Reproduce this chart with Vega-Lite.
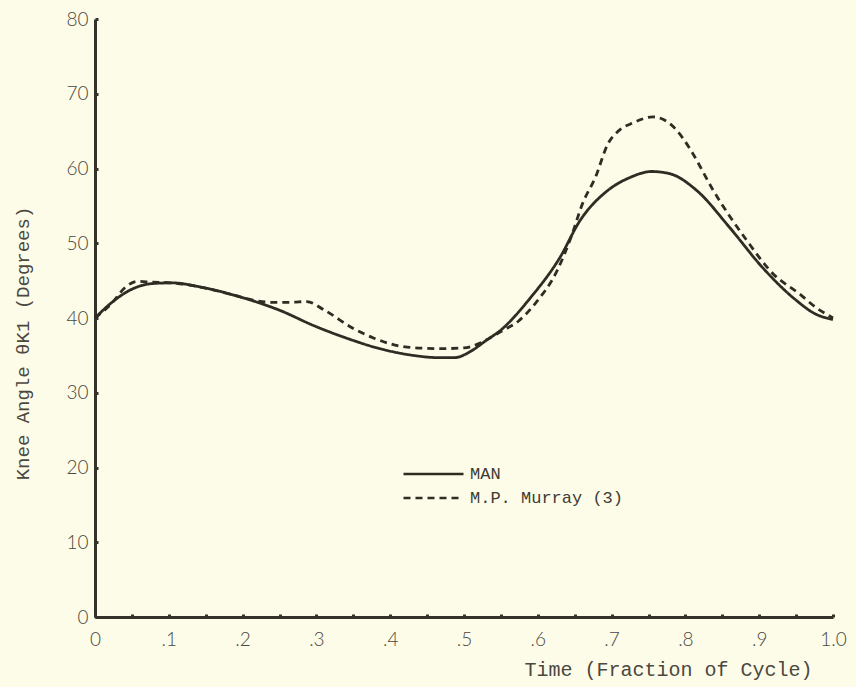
{
  "$schema": "https://vega.github.io/schema/vega-lite/v6.json",
  "width": 738,
  "height": 598,
  "autosize": "none",
  "padding": {"left": 95, "top": 19, "right": 23, "bottom": 70},
  "background": "#fdfce8",
  "config": {
    "view": {"stroke": null},
    "axis": {"grid": false, "domainColor": "#35322a", "domainWidth": 3, "tickColor": "#35322a", "labelColor": "#4a4840", "titleColor": "#4a4840", "labelFont": "Lato", "labelFontWeight": 300, "titleFont": "Liberation Mono", "titleFontWeight": "normal"}
  },
  "data": {
    "values": [
      {"t": 0, "v": 40, "series": "MAN"},
      {"t": 0.023, "v": 42.1, "series": "MAN"},
      {"t": 0.045, "v": 43.6, "series": "MAN"},
      {"t": 0.077, "v": 44.6, "series": "MAN"},
      {"t": 0.104, "v": 44.7, "series": "MAN"},
      {"t": 0.145, "v": 44.1, "series": "MAN"},
      {"t": 0.183, "v": 43.2, "series": "MAN"},
      {"t": 0.214, "v": 42.3, "series": "MAN"},
      {"t": 0.251, "v": 41.0, "series": "MAN"},
      {"t": 0.296, "v": 39.0, "series": "MAN"},
      {"t": 0.341, "v": 37.3, "series": "MAN"},
      {"t": 0.386, "v": 35.9, "series": "MAN"},
      {"t": 0.431, "v": 35.0, "series": "MAN"},
      {"t": 0.465, "v": 34.7, "series": "MAN"},
      {"t": 0.487, "v": 34.7, "series": "MAN"},
      {"t": 0.51, "v": 35.6, "series": "MAN"},
      {"t": 0.53, "v": 37.0, "series": "MAN"},
      {"t": 0.55, "v": 38.4, "series": "MAN"},
      {"t": 0.59, "v": 42.7, "series": "MAN"},
      {"t": 0.63, "v": 48.1, "series": "MAN"},
      {"t": 0.657, "v": 53.0, "series": "MAN"},
      {"t": 0.694, "v": 57.0, "series": "MAN"},
      {"t": 0.725, "v": 58.8, "series": "MAN"},
      {"t": 0.754, "v": 59.6, "series": "MAN"},
      {"t": 0.779, "v": 59.3, "series": "MAN"},
      {"t": 0.816, "v": 57.0, "series": "MAN"},
      {"t": 0.86, "v": 52.1, "series": "MAN"},
      {"t": 0.905, "v": 46.7, "series": "MAN"},
      {"t": 0.951, "v": 42.3, "series": "MAN"},
      {"t": 0.975, "v": 40.6, "series": "MAN"},
      {"t": 1.0, "v": 39.8, "series": "MAN"},
      {"t": 0, "v": 40, "series": "M.P. Murray (3)"},
      {"t": 0.023, "v": 42.0, "series": "M.P. Murray (3)"},
      {"t": 0.041, "v": 44.1, "series": "M.P. Murray (3)"},
      {"t": 0.057, "v": 44.9, "series": "M.P. Murray (3)"},
      {"t": 0.077, "v": 44.8, "series": "M.P. Murray (3)"},
      {"t": 0.104, "v": 44.7, "series": "M.P. Murray (3)"},
      {"t": 0.145, "v": 44.1, "series": "M.P. Murray (3)"},
      {"t": 0.183, "v": 43.2, "series": "M.P. Murray (3)"},
      {"t": 0.214, "v": 42.4, "series": "M.P. Murray (3)"},
      {"t": 0.24, "v": 42.1, "series": "M.P. Murray (3)"},
      {"t": 0.265, "v": 42.1, "series": "M.P. Murray (3)"},
      {"t": 0.287, "v": 42.2, "series": "M.P. Murray (3)"},
      {"t": 0.31, "v": 41.1, "series": "M.P. Murray (3)"},
      {"t": 0.35, "v": 38.6, "series": "M.P. Murray (3)"},
      {"t": 0.378, "v": 37.3, "series": "M.P. Murray (3)"},
      {"t": 0.423, "v": 36.1, "series": "M.P. Murray (3)"},
      {"t": 0.467, "v": 35.9, "series": "M.P. Murray (3)"},
      {"t": 0.5, "v": 36.0, "series": "M.P. Murray (3)"},
      {"t": 0.525, "v": 36.8, "series": "M.P. Murray (3)"},
      {"t": 0.55, "v": 38.2, "series": "M.P. Murray (3)"},
      {"t": 0.574, "v": 39.6, "series": "M.P. Murray (3)"},
      {"t": 0.597, "v": 42.0, "series": "M.P. Murray (3)"},
      {"t": 0.626, "v": 46.3, "series": "M.P. Murray (3)"},
      {"t": 0.645, "v": 50.8, "series": "M.P. Murray (3)"},
      {"t": 0.661, "v": 55.4, "series": "M.P. Murray (3)"},
      {"t": 0.678, "v": 58.8, "series": "M.P. Murray (3)"},
      {"t": 0.695, "v": 63.3, "series": "M.P. Murray (3)"},
      {"t": 0.709, "v": 65.0, "series": "M.P. Murray (3)"},
      {"t": 0.729, "v": 66.1, "series": "M.P. Murray (3)"},
      {"t": 0.756, "v": 66.9, "series": "M.P. Murray (3)"},
      {"t": 0.779, "v": 66.0, "series": "M.P. Murray (3)"},
      {"t": 0.797, "v": 64.0, "series": "M.P. Murray (3)"},
      {"t": 0.81, "v": 62.0, "series": "M.P. Murray (3)"},
      {"t": 0.837, "v": 57.2, "series": "M.P. Murray (3)"},
      {"t": 0.883, "v": 50.4, "series": "M.P. Murray (3)"},
      {"t": 0.919, "v": 45.9, "series": "M.P. Murray (3)"},
      {"t": 0.955, "v": 43.2, "series": "M.P. Murray (3)"},
      {"t": 0.977, "v": 41.4, "series": "M.P. Murray (3)"},
      {"t": 1.0, "v": 40.0, "series": "M.P. Murray (3)"}
    ]
  },
  "mark": {"type": "line", "interpolate": "monotone", "color": "#2f2c24", "strokeWidth": 2.8},
  "encoding": {
    "x": {
      "field": "t", "type": "quantitative",
      "scale": {"domain": [0, 1], "nice": false},
      "axis": {
        "values": [0, 0.05, 0.1, 0.15, 0.2, 0.25, 0.3, 0.35, 0.4, 0.45, 0.5, 0.55, 0.6, 0.65, 0.7, 0.75, 0.8, 0.85, 0.9, 0.95, 1.0],
        "labelExpr": "datum.value == 0 ? '0' : datum.value == 1 ? '1.0' : (abs(datum.value * 10 - round(datum.value * 10)) < 0.01 ? replace(format(datum.value, '.1f'), '0.', '.') : '')",
        "tickSize": -3, "tickWidth": 3, "labelFontSize": 19, "labelPadding": 16,
        "labelFlush": false, "labelOverlap": false,
        "title": "Time (Fraction of Cycle)", "titleFontSize": 20,
        "titleX": 717, "titleY": 58, "titleAlign": "right", "titleBaseline": "alphabetic"
      }
    },
    "y": {
      "field": "v", "type": "quantitative",
      "scale": {"domain": [0, 80], "nice": false},
      "axis": {
        "values": [0, 10, 20, 30, 40, 50, 60, 70, 80],
        "tickSize": -3, "tickWidth": 3, "labelFontSize": 19, "labelPadding": 10,
        "title": "Knee Angle θK1 (Degrees)", "titleFontSize": 19,
        "titleAngle": 270, "titleX": -73, "titleY": 324, "titleAlign": "center", "titleBaseline": "middle"
      }
    },
    "strokeDash": {
      "field": "series", "type": "nominal",
      "scale": {"domain": ["MAN", "M.P. Murray (3)"], "range": [[1, 0], [7, 5]]},
      "legend": {
        "orient": "none", "legendX": 307, "legendY": 445, "title": null,
        "symbolType": "stroke", "symbolSize": 3600, "symbolStrokeWidth": 2.6, "symbolStrokeColor": "#2f2c24",
        "clipHeight": 20, "rowPadding": 4,
        "labelFont": "Liberation Mono", "labelFontSize": 17, "labelColor": "#3e3b33", "labelOffset": 5
      }
    }
  }
}
